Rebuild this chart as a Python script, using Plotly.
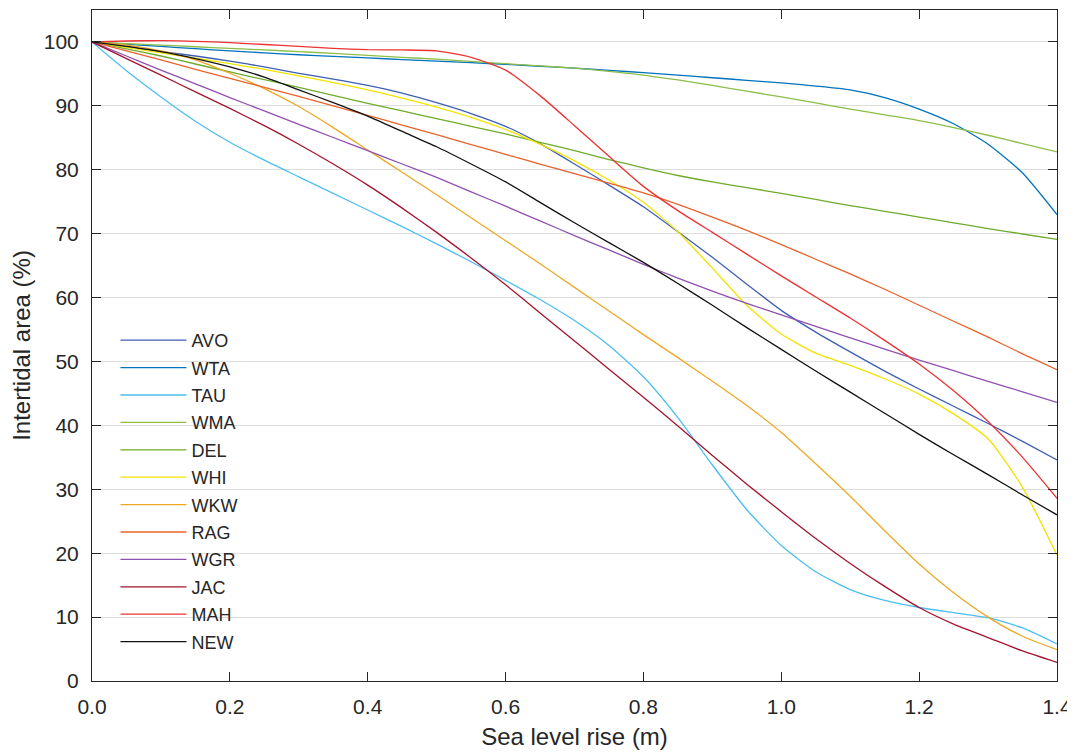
import plotly.graph_objects as go

# Sea level rise (m)
slr = [0.0, 0.05, 0.1, 0.15, 0.2, 0.25, 0.3, 0.35, 0.4, 0.45, 0.5, 0.55, 0.6, 0.65, 0.7,
       0.75, 0.8, 0.85, 0.9, 0.95, 1.0, 1.05, 1.1, 1.15, 1.2, 1.25, 1.3, 1.35, 1.4]

# Intertidal area (%) per site
AVO = [100, 99.25, 98.5, 97.8, 97.0, 96.1, 95.1, 94.2, 93.2, 92.0, 90.5, 88.8, 86.8, 84.1, 80.9,
       77.6, 74.2, 70.3, 66.3, 62.1, 58.0, 54.6, 51.5, 48.5, 45.7, 43.0, 40.3, 37.5, 34.6]
WTA = [100, 99.65, 99.3, 98.95, 98.6, 98.3, 98.0, 97.75, 97.5, 97.25, 97.0, 96.75, 96.5, 96.2, 95.9,
       95.55, 95.2, 94.8, 94.4, 94.0, 93.6, 93.1, 92.5, 91.3, 89.5, 87.2, 84.0, 79.5, 73.0]
TAU = [100, 95.5, 91.4, 87.6, 84.3, 81.5, 78.9, 76.3, 73.7, 71.1, 68.4, 65.6, 62.7, 59.7, 56.4,
       52.5, 47.6, 41.2, 33.8, 26.8, 21.2, 17.1, 14.3, 12.6, 11.5, 10.7, 9.9, 8.3, 5.8]
WMA = [100, 99.75, 99.5, 99.25, 99.0, 98.75, 98.5, 98.2, 97.9, 97.6, 97.3, 96.95, 96.6, 96.25, 95.9,
       95.4, 94.8, 94.05, 93.2, 92.3, 91.4, 90.45, 89.5, 88.6, 87.7, 86.6, 85.4, 84.1, 82.8]
DEL = [100, 98.9, 97.8, 96.55, 95.3, 94.1, 92.9, 91.65, 90.4, 89.2, 88.0, 86.8, 85.6, 84.3, 83.0,
       81.6, 80.3, 79.1, 78.1, 77.2, 76.3, 75.35, 74.4, 73.5, 72.6, 71.7, 70.8, 69.95, 69.1]
WHI = [100, 99.15, 98.3, 97.45, 96.6, 95.7, 94.7, 93.65, 92.5, 91.2, 89.8, 88.2, 86.3, 84.0, 81.4,
       78.4, 74.9, 70.3, 64.6, 58.8, 54.3, 51.3, 49.4, 47.3, 44.9, 41.8, 37.9, 30.3, 19.7]
WKW = [100, 99.5, 98.6, 97.2, 95.1, 92.7, 89.9, 86.6, 83.1, 79.6, 76.1, 72.5, 68.9, 65.3, 61.6,
       57.9, 54.2, 50.6, 46.9, 43.1, 38.9, 34.0, 28.9, 23.5, 18.3, 13.8, 10.0, 7.0, 4.9]
RAG = [100, 98.6, 97.2, 95.7, 94.3, 92.9, 91.5, 90.0, 88.5, 87.0, 85.5, 83.95, 82.4, 80.9, 79.4,
       77.9, 76.4, 74.6, 72.6, 70.5, 68.3, 66.0, 63.7, 61.3, 58.8, 56.3, 53.8, 51.2, 48.7]
WGR = [100, 97.8, 95.6, 93.45, 91.3, 89.2, 87.1, 85.05, 83.0, 80.9, 78.8, 76.55, 74.3, 72.0, 69.7,
       67.45, 65.2, 63.05, 61.0, 59.1, 57.3, 55.5, 53.7, 51.95, 50.2, 48.55, 46.9, 45.25, 43.6]
JAC = [100, 97.4, 94.8, 92.2, 89.6, 86.9, 84.0, 80.9, 77.6, 74.0, 70.2, 66.2, 62.0, 57.6, 53.2,
       48.8, 44.4, 39.9, 35.3, 30.8, 26.5, 22.3, 18.4, 14.8, 11.5, 8.9, 6.8, 4.7, 2.9]
MAH = [100, 100.15, 100.2, 100.1, 99.9, 99.6, 99.3, 99.0, 98.8, 98.75, 98.6, 97.6, 95.6, 91.6, 86.9,
       82.1, 77.4, 73.6, 70.2, 66.8, 63.4, 60.1, 56.8, 53.3, 49.6, 45.4, 40.6, 35.0, 28.6]
NEW = [100, 99.3, 98.5, 97.4, 96.1, 94.5, 92.5, 90.5, 88.4, 86.0, 83.6, 80.9, 78.1, 74.9, 71.7,
       68.6, 65.5, 62.2, 58.8, 55.3, 51.9, 48.5, 45.2, 41.9, 38.6, 35.4, 32.3, 29.1, 26.0]

site_names = ["AVO", "WTA", "TAU", "WMA", "DEL", "WHI", "WKW", "RAG", "WGR", "JAC", "MAH", "NEW"]
site_values = [AVO, WTA, TAU, WMA, DEL, WHI, WKW, RAG, WGR, JAC, MAH, NEW]
site_colors = ["#3f5fb3", "#0072bd", "#4dbeee", "#8dbe48", "#6fab2c", "#f2e300",
               "#eda824", "#e8622b", "#9050b0", "#a2142f", "#ec3232", "#111111"]

y_ticks = [0, 10, 20, 30, 40, 50, 60, 70, 80, 90, 100]
x_ticks = [0.0, 0.2, 0.4, 0.6, 0.8, 1.0, 1.2, 1.4]

FONT = "Liberation Sans, Arial, Helvetica, sans-serif"
TXT = "#262626"

fig = go.Figure()
for name, vals, col in zip(site_names, site_values, site_colors):
    fig.add_trace(go.Scatter(
        x=slr, y=vals, name=name, mode="lines", legendgroup=name,
        line=dict(color=col, width=1.3, shape="spline", smoothing=0.6),
    ))

axis_common = dict(
    showline=True, linecolor=TXT, linewidth=1, mirror="ticks",
    ticks="inside", ticklen=9, tickcolor=TXT, tickwidth=1,
    tickfont=dict(family=FONT, size=21, color=TXT),
    zeroline=False, automargin=False,
)

fig.update_layout(
    width=1075, height=753,
    margin=dict(l=84, r=26, t=2, b=80),
    paper_bgcolor="white", plot_bgcolor="white",
    font=dict(family=FONT, color=TXT),
    showlegend=True,
    legend=dict(
        x=0.0243, y=0.535, xanchor="left", yanchor="top",
        bgcolor="rgba(0,0,0,0)", borderwidth=0,
        font=dict(family=FONT, size=18, color=TXT),
        itemwidth=66, tracegroupgap=1,
    ),
    xaxis=dict(
        range=[0, 1.4], tickvals=x_ticks, ticktext=[f"{v:.1f}" for v in x_ticks],
        showgrid=False, ticklabelstandoff=7,
        title=dict(text="Sea level rise (m)", font=dict(family=FONT, size=24, color=TXT), standoff=10),
        **axis_common,
    ),
    yaxis=dict(
        range=[0, 105], tickvals=y_ticks,
        showgrid=True, gridcolor="#dedede", gridwidth=1,
        ticklabelstandoff=8,
        title=dict(text="Intertidal area (%)", font=dict(family=FONT, size=24, color=TXT), standoff=7),
        **axis_common,
    ),
)

fig.write_html("out.html")
